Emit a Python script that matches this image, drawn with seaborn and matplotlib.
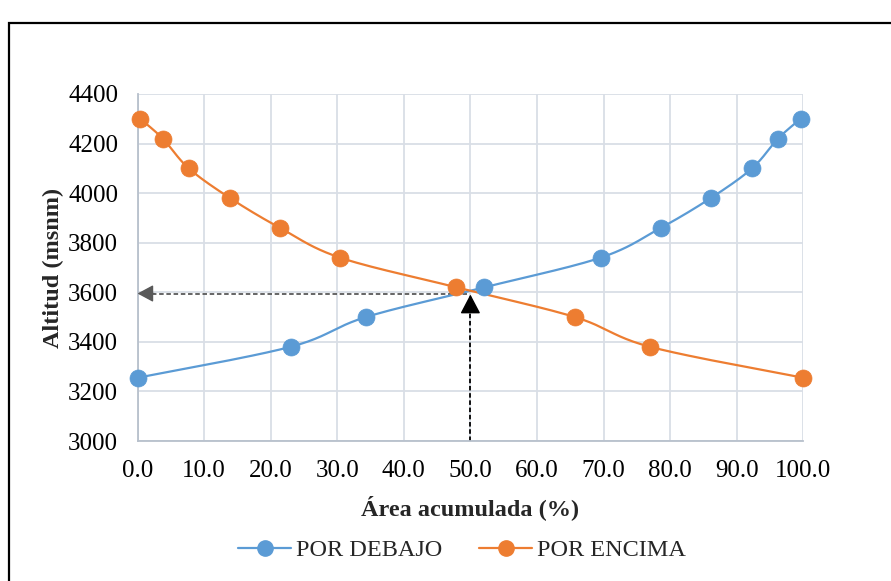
import numpy as np
import pandas as pd
import matplotlib
matplotlib.use("Agg")
import matplotlib.pyplot as plt
import seaborn as sns
from matplotlib.lines import Line2D
from matplotlib.patches import Rectangle

# values
altitud = [3255, 3380, 3500, 3620, 3740, 3860, 3980, 4100, 4220, 4300]
area_debajo = [0.0, 23.0, 34.3, 52.1, 69.6, 78.6, 86.1, 92.3, 96.2, 99.6]
area_encima = [100.0, 77.0, 65.7, 47.9, 30.4, 21.4, 13.9, 7.7, 3.8, 0.4]

x_ticks = [0, 10, 20, 30, 40, 50, 60, 70, 80, 90, 100]
y_ticks = [3000, 3200, 3400, 3600, 3800, 4000, 4200, 4400]

# guide arrows (median altitude)
guide_x = 50
guide_y = 3595

BLUE = "#5B9BD5"
ORANGE = "#ED7D31"


def smooth(x, y, sx=6.66, sy=0.248, n=24):
    # Excel style smoothed line (Catmull-Rom / Bezier through the points)
    p = np.column_stack([np.asarray(x) * sx, np.asarray(y) * sy])
    p = np.vstack([p[0], p, p[-1]])
    out = []
    for i in range(1, len(p) - 2):
        p0, p1, p2, p3 = p[i - 1], p[i], p[i + 1], p[i + 2]
        c1 = p1 + (p2 - p0) / 6.0
        c2 = p2 - (p3 - p1) / 6.0
        t = np.linspace(0, 1, n)[:, None]
        seg = ((1 - t) ** 3) * p1 + 3 * ((1 - t) ** 2) * t * c1 + 3 * (1 - t) * t ** 2 * c2 + t ** 3 * p2
        out.append(seg if i == 1 else seg[1:])
    out = np.vstack(out)
    return out[:, 0] / sx, out[:, 1] / sy


sns.set_style("white")
plt.rcParams['font.family'] = ['Liberation Serif', 'DejaVu Serif']

fig = plt.figure(figsize=(8.91, 5.81), dpi=100)
ax = fig.add_axes([137.5 / 891, 1 - 441 / 581, (803.3 - 137.5) / 891, (441 - 94) / 581])

df = pd.DataFrame({"altitud": altitud, "debajo": area_debajo, "encima": area_encima})

for col, color in [("debajo", BLUE), ("encima", ORANGE)]:
    xs, ys = smooth(df[col], df["altitud"])
    sns.lineplot(x=xs, y=ys, sort=False, estimator=None, color=color, lw=1.6, ax=ax, zorder=3)
    sns.scatterplot(x=df[col], y=df["altitud"], color=color, s=150, edgecolor=color,
                    linewidth=0.5, ax=ax, zorder=4, clip_on=False)

# dashed guides with arrowheads
ax.plot([guide_x - 0.5, 2.0], [guide_y, guide_y], ls=(0, (2.5, 1.5)), color="#595959", lw=1.3, zorder=2)
ax.annotate("", xy=(0, guide_y), xytext=(2.5, guide_y),
            arrowprops=dict(arrowstyle="-|>,head_length=0.65,head_width=0.35",
                            color="#595959", lw=1, shrinkA=0, shrinkB=0, mutation_scale=15),
            zorder=5)
ax.plot([guide_x, guide_x], [3000, guide_y - 60], ls=(0, (2.5, 1.5)), color="black", lw=1.3, zorder=2)
ax.annotate("", xy=(guide_x, guide_y - 4), xytext=(guide_x, guide_y - 70),
            arrowprops=dict(arrowstyle="-|>,head_length=0.8,head_width=0.42",
                            color="black", lw=1, shrinkA=0, shrinkB=0, mutation_scale=15),
            zorder=5)

ax.set_xlim(0, 100)
ax.set_ylim(3000, 4400)
ax.set_xticks(x_ticks)
ax.set_xticklabels([f"{v:.1f}" for v in x_ticks])
ax.set_yticks(y_ticks)
ax.set_yticklabels([str(v) for v in y_ticks])
ax.tick_params(axis="both", length=0, labelsize=18, colors="black")
ax.tick_params(axis="y", pad=14)
ax.tick_params(axis="x", pad=14)

ax.grid(True, color="#D9DEE6", lw=1.3)
ax.set_axisbelow(True)
for s in ["top", "right"]:
    ax.spines[s].set_visible(False)
for s in ["left", "bottom"]:
    ax.spines[s].set_color("#B7C0CC")
    ax.spines[s].set_linewidth(1.3)

ax.set_xlabel("Área acumulada (%)", fontsize=17.5, fontweight="bold", labelpad=9)
ax.set_ylabel("Altitud (msnm)", fontsize=17.5, fontweight="bold", labelpad=3)

handles = [
    Line2D([], [], color=BLUE, lw=1.6, marker="o", markersize=11, markeredgecolor=BLUE),
    Line2D([], [], color=ORANGE, lw=1.6, marker="o", markersize=11, markeredgecolor=ORANGE),
]
fig.legend(handles, ["POR DEBAJO", "POR ENCIMA"], loc="center", ncol=2,
           bbox_to_anchor=(462 / 891, 1 - 550 / 581), frameon=False, fontsize=17.5,
           handlelength=2.2, handletextpad=0.2, columnspacing=1.5)

# chart frame (cut off on the right and bottom in the reference)
fig.patches.append(Rectangle((9 / 891, -0.2), 1.2, 1.2 - 23 / 581 + 0.0, transform=fig.transFigure,
                             fill=False, ec="black", lw=1.6))

fig.savefig("out.png", dpi=100)
